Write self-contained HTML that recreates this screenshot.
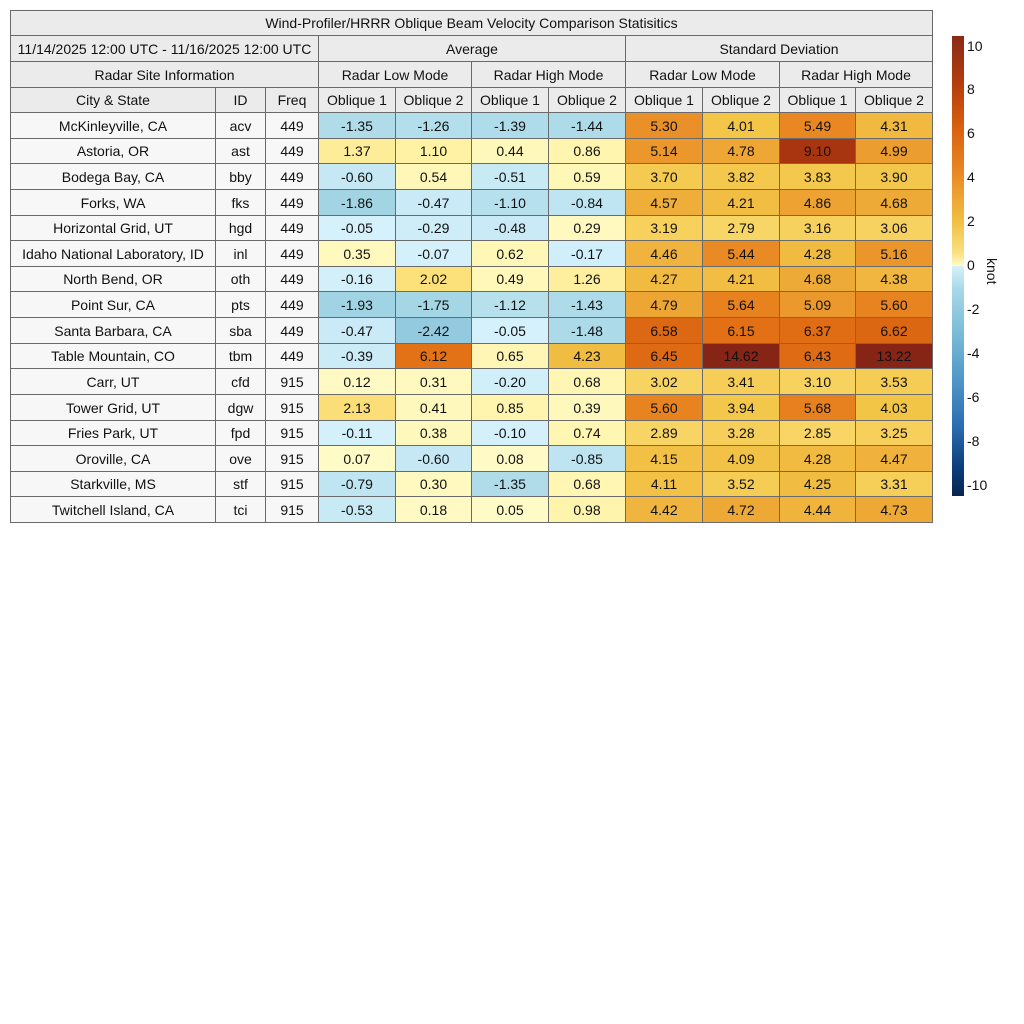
<!DOCTYPE html>
<html><head><meta charset="utf-8">
<style>
body{margin:0;width:1024px;height:1024px;background:#fff;position:relative;overflow:hidden;font-family:"Liberation Sans",Arial,sans-serif;}
.c{position:absolute;box-sizing:border-box;border:1px solid #6a6a6a;display:flex;align-items:center;justify-content:center;font-size:14px;color:#111;white-space:nowrap;margin:0 -1px -1px 0;}
.t{position:absolute;font-size:14px;color:#111;}
</style></head><body>
<div id="root"></div>
<div style="position:absolute;left:952px;top:36px;width:12px;height:460px;background:linear-gradient(to bottom,#892a17 0%,#b23d0c 10%,#d9600f 20%,#e98a25 30%,#f1bd42 40%,#fae07f 47%,#fffbc8 50%,#d6f1fa 50%,#a9d8e8 55%,#7cbdd8 64%,#4f96c8 75%,#2a6cb0 85%,#0c3c7a 94%,#08244f 100%);"></div>
<div id="cb"></div>
<div class="t" style="top:258px;transform:rotate(90deg);transform-origin:0 0;left:1000px;">knot</div>
<script>
const stops=[[-10.5,[8,36,79]],[-8,[16,70,140]],[-6,[52,130,190]],[-4,[104,174,210]],[-2,[158,210,226]],[-0.001,[214,242,252]],[0,[255,251,200]],[1,[255,244,170]],[2,[252,224,122]],[4,[243,198,72]],[6,[229,115,22]],[8,[200,76,12]],[9,[170,54,16]],[10.5,[134,36,21]]];
function col(v){if(v<=stops[0][0])return stops[0][1];if(v>=10.5)return stops[stops.length-1][1];
for(let i=0;i<stops.length-1;i++){const a=stops[i],b=stops[i+1];if(v>=a[0]&&v<=b[0]){const t=(v-a[0])/(b[0]-a[0]);return a[1].map((x,k)=>Math.round(x+(b[1][k]-x)*t));}}return [255,255,255];}
const X=[10,215,265,318,395,471,548,625,702,779,855,932];
let h='';
function cell(x1,x2,y1,y2,txt,bg){h+=`<div class="c" style="left:${x1}px;top:${y1}px;width:${x2-x1+1}px;height:${y2-y1+1}px;background:${bg}">${txt}</div>`;}
const hb='#ebebeb';
cell(10,932,10,35,'Wind-Profiler/HRRR Oblique Beam Velocity Comparison Statisitics',hb);
cell(10,318,35,61,'11/14/2025 12:00 UTC - 11/16/2025 12:00 UTC',hb);
cell(318,625,35,61,'Average',hb);cell(625,932,35,61,'Standard Deviation',hb);
cell(10,318,61,87,'Radar Site Information',hb);
['Radar Low Mode','Radar High Mode','Radar Low Mode','Radar High Mode'].forEach((s,i)=>cell(X[3+2*i],X[5+2*i],61,87,s,hb));
['City &amp; State','ID','Freq','Oblique 1','Oblique 2','Oblique 1','Oblique 2','Oblique 1','Oblique 2','Oblique 1','Oblique 2'].forEach((s,i)=>cell(X[i],X[i+1],87,112,s,hb));
const rows=[
['McKinleyville, CA','acv',449,-1.35,-1.26,-1.39,-1.44,5.30,4.01,5.49,4.31],
['Astoria, OR','ast',449,1.37,1.10,0.44,0.86,5.14,4.78,9.10,4.99],
['Bodega Bay, CA','bby',449,-0.60,0.54,-0.51,0.59,3.70,3.82,3.83,3.90],
['Forks, WA','fks',449,-1.86,-0.47,-1.10,-0.84,4.57,4.21,4.86,4.68],
['Horizontal Grid, UT','hgd',449,-0.05,-0.29,-0.48,0.29,3.19,2.79,3.16,3.06],
['Idaho National Laboratory, ID','inl',449,0.35,-0.07,0.62,-0.17,4.46,5.44,4.28,5.16],
['North Bend, OR','oth',449,-0.16,2.02,0.49,1.26,4.27,4.21,4.68,4.38],
['Point Sur, CA','pts',449,-1.93,-1.75,-1.12,-1.43,4.79,5.64,5.09,5.60],
['Santa Barbara, CA','sba',449,-0.47,-2.42,-0.05,-1.48,6.58,6.15,6.37,6.62],
['Table Mountain, CO','tbm',449,-0.39,6.12,0.65,4.23,6.45,14.62,6.43,13.22],
['Carr, UT','cfd',915,0.12,0.31,-0.20,0.68,3.02,3.41,3.10,3.53],
['Tower Grid, UT','dgw',915,2.13,0.41,0.85,0.39,5.60,3.94,5.68,4.03],
['Fries Park, UT','fpd',915,-0.11,0.38,-0.10,0.74,2.89,3.28,2.85,3.25],
['Oroville, CA','ove',915,0.07,-0.60,0.08,-0.85,4.15,4.09,4.28,4.47],
['Starkville, MS','stf',915,-0.79,0.30,-1.35,0.68,4.11,3.52,4.25,3.31],
['Twitchell Island, CA','tci',915,-0.53,0.18,0.05,0.98,4.42,4.72,4.44,4.73]];
rows.forEach((r,j)=>{const y1=Math.round(112+j*25.625),y2=Math.round(112+(j+1)*25.625);
r.forEach((v,i)=>{if(i<3)cell(X[i],X[i+1],y1,y2,v,'#f7f7f7');else{const c=col(v);cell(X[i],X[i+1],y1,y2,v.toFixed(2),`rgb(${c.join(',')})`);}});});
let cb='';[10,8,6,4,2,0,-2,-4,-6,-8,-10].forEach(v=>{const y=266-v*21.95;cb+=`<div class="t" style="left:967px;top:${y-9}px">${v}</div>`;});
document.getElementById('root').innerHTML=h;document.getElementById('cb').innerHTML=cb;
</script>
</body></html>
